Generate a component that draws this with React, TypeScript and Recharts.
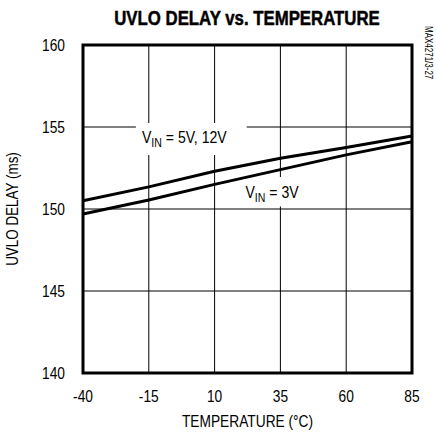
import React from 'react';
import { LineChart, Line, XAxis, YAxis, CartesianGrid, ReferenceArea, ReferenceDot } from 'recharts';

const temps = [-40, -15, 10, 35, 60, 85];
const delay5v12v = [150.5, 151.35, 152.3, 153.1, 153.75, 154.45];
const delay3v = [149.7, 150.55, 151.5, 152.4, 153.3, 154.1];
const xTicks = [-40, -15, 10, 35, 60, 85];
const yTicks = [140, 145, 150, 155, 160];

const data = temps.map((t, i) => ({ t, a: delay5v12v[i], b: delay3v[i] }));

const FONT = '"Liberation Sans", Arial, sans-serif';
const SX = 0.86;

const XTick = (props: any) => {
  const { x, y, payload } = props;
  return (
    <text transform={`translate(${x},${y + 21}) scale(${SX},1)`} textAnchor="middle" fontFamily={FONT} fontSize={16} fill="#000">
      {payload.value}
    </text>
  );
};

const YTick = (props: any) => {
  const { x, y, payload } = props;
  return (
    <text transform={`translate(${x - 10},${y + 6}) scale(${SX},1)`} textAnchor="end" fontFamily={FONT} fontSize={16} fill="#000">
      {payload.value}
    </text>
  );
};

const VinLabel = (props: any) => {
  const { viewBox, rest } = props;
  const x = viewBox.x;
  const y = viewBox.y;
  return (
    <text transform={`translate(${x},${y}) scale(0.88,1)`} fontFamily={FONT} fontSize={16} fill="#000">
      <tspan>V</tspan>
      <tspan fontSize={12} dy={4}>IN</tspan>
      <tspan dy={-4}>{rest}</tspan>
    </text>
  );
};

const XTitle = (props: any) => {
  const { viewBox } = props;
  const cx = viewBox.x + viewBox.width / 2;
  return (
    <text transform={`translate(${cx},427) scale(${SX},1)`} textAnchor="middle" fontFamily={FONT} fontSize={16} fill="#000">
      TEMPERATURE (°C)
    </text>
  );
};

const YTitle = (props: any) => {
  const { viewBox } = props;
  const cy = viewBox.y + viewBox.height / 2;
  return (
    <text transform={`translate(18,${cy}) rotate(-90) scale(0.84,1)`} textAnchor="middle" fontFamily={FONT} fontSize={16} fill="#000">
      UVLO DELAY (ms)
    </text>
  );
};

export default function App() {
  return (
    <div style={{ position: 'absolute', left: 0, top: 0, width: 436, height: 433, background: '#fff' }}>
      <LineChart width={436} height={433} data={data} margin={{ top: 45, right: 24, bottom: 0, left: 0 }}>
        <CartesianGrid stroke="#000" strokeWidth={1} />
        <XAxis
          dataKey="t"
          type="number"
          domain={[-40, 85]}
          ticks={xTicks}
          axisLine={false}
          tickLine={false}
          height={60}
          tick={<XTick />}
          label={<XTitle />}
        />
        <YAxis
          type="number"
          domain={[140, 160]}
          ticks={yTicks}
          axisLine={false}
          tickLine={false}
          width={83}
          tick={<YTick />}
          label={<YTitle />}
        />
        <ReferenceArea x1={-19.9} x2={22.2} y1={153.3} y2={155.25} fill="#fff" fillOpacity={1} stroke="none" />
        <ReferenceArea x1={19.6} x2={42.4} y1={150.15} y2={151.95} fill="#fff" fillOpacity={1} stroke="none" />
        <Line type="linear" dataKey="a" stroke="#000" strokeWidth={3} dot={false} isAnimationActive={false} />
        <Line type="linear" dataKey="b" stroke="#000" strokeWidth={3} dot={false} isAnimationActive={false} />
        <ReferenceArea x1={-40} x2={85} y1={140} y2={160} fill="none" stroke="#000" strokeWidth={3} />
        <ReferenceDot x={-17.6} y={154.0} r={0} fill="none" stroke="none" label={(p: any) => <VinLabel {...p} rest=" = 5V, 12V" />} />
        <ReferenceDot x={21.7} y={150.65} r={0} fill="none" stroke="none" label={(p: any) => <VinLabel {...p} rest=" = 3V" />} />
      </LineChart>
      <svg width={436} height={433} style={{ position: 'absolute', left: 0, top: 0, pointerEvents: 'none' }}>
        <text transform="translate(247,25) scale(0.8,1)" textAnchor="middle" fontFamily={FONT} fontWeight="bold" fontSize={21} fill="#000" stroke="#000" strokeWidth={0.5}>
          UVLO DELAY vs. TEMPERATURE
        </text>
        <text transform="translate(425,26) rotate(90) scale(0.8,1)" textAnchor="start" fontFamily={FONT} fontSize={10} fill="#000">
          MAX4271/3-27
        </text>
      </svg>
    </div>
  );
}
